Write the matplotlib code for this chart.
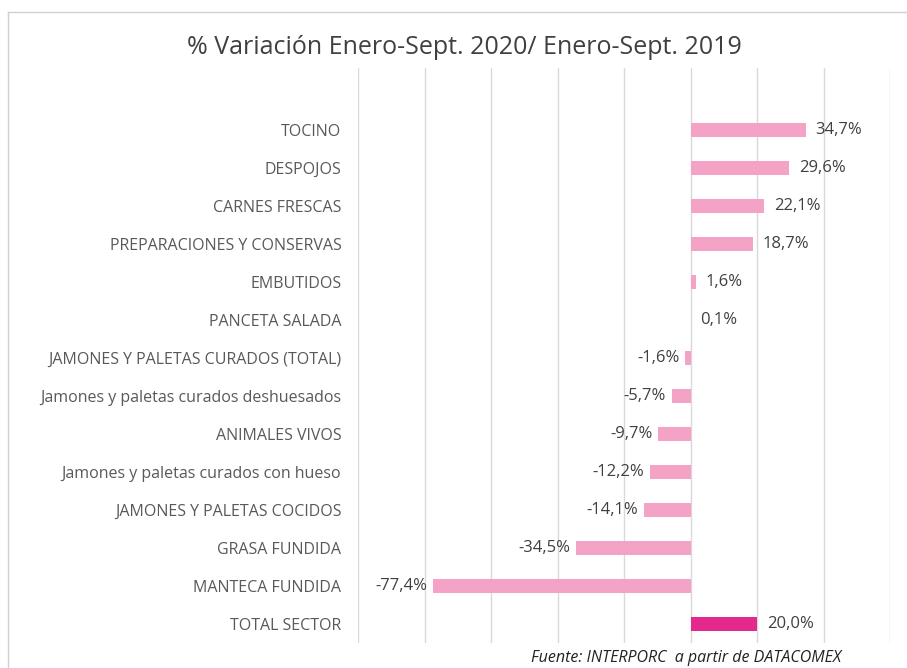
import matplotlib.pyplot as plt
from matplotlib.lines import Line2D

# -----------------------------
# Data
# -----------------------------
categories = [
    "TOCINO",
    "DESPOJOS",
    "CARNES FRESCAS",
    "PREPARACIONES Y CONSERVAS",
    "EMBUTIDOS",
    "PANCETA SALADA",
    "JAMONES Y PALETAS CURADOS (TOTAL)",
    "Jamones y paletas curados deshuesados",
    "ANIMALES VIVOS",
    "Jamones y paletas curados con hueso",
    "JAMONES Y PALETAS COCIDOS",
    "GRASA FUNDIDA",
    "MANTECA FUNDIDA",
    "TOTAL SECTOR",
]
values = [34.7, 29.6, 22.1, 18.7, 1.6, 0.1, -1.6, -5.7, -9.7, -12.2, -14.1, -34.5, -77.4, 20.0]
x_ticks = [-100, -80, -60, -40, -20, 0, 20, 40, 60]

light_pink = "#F4A3C6"
total_pink = "#E5288B"
text_color = "#404040"

plt.rcParams["font.family"] = ["Open Sans", "DejaVu Sans"]

fig = plt.figure(figsize=(9.07, 6.68), dpi=100)
ax = fig.add_axes([358 / 907, 1 - 643 / 668, (890 - 358) / 907, (643 - 68) / 668])

colors = [total_pink if c == "TOTAL SECTOR" else light_pink for c in categories]
pos = list(range(len(categories)))
ax.barh(pos, values, height=0.35, color=colors, zorder=3)

for y, v in zip(pos, values):
    label = f"{v:.1f}%".replace(".", ",")
    if v >= 0:
        ax.annotate(label, (v, y), xytext=(7, 0), textcoords="offset points",
                    ha="left", va="center", fontsize=12, color=text_color)
    else:
        ax.annotate(label, (v, y), xytext=(-4, 0), textcoords="offset points",
                    ha="right", va="center", fontsize=12, color=text_color)

ax.set_xlim(-100, 60)
ax.set_ylim(13.5, -1.63)
ax.set_xticks(x_ticks)
ax.set_xticklabels([])
ax.tick_params(axis="x", length=0)
ax.set_yticks(pos)
ax.set_yticklabels(categories, fontsize=11.5, color="#595959")
ax.tick_params(axis="y", length=0, pad=12)
ax.grid(axis="x", color="#D9D9D9", linewidth=1, zorder=0)
for s in ax.spines.values():
    s.set_visible(False)

# Title and source
fig.text(464 / 907, 1 - 47 / 668, "% Variación Enero-Sept. 2020/ Enero-Sept. 2019",
         ha="center", va="center", fontsize=18, color="#404040")
fig.text(686 / 907, 1 - 658 / 668, "Fuente: INTERPORC  a partir de DATACOMEX",
         ha="center", va="center", fontsize=11.5, style="italic", color="#222222")

# Chart frame (top and left edges)
fig.add_artist(Line2D([8 / 907, 1], [1 - 12 / 668, 1 - 12 / 668], color="#D0D0D0", lw=1))
fig.add_artist(Line2D([8 / 907, 8 / 907], [0, 1 - 12 / 668], color="#D0D0D0", lw=1))

fig.savefig("out.png", dpi=100)
